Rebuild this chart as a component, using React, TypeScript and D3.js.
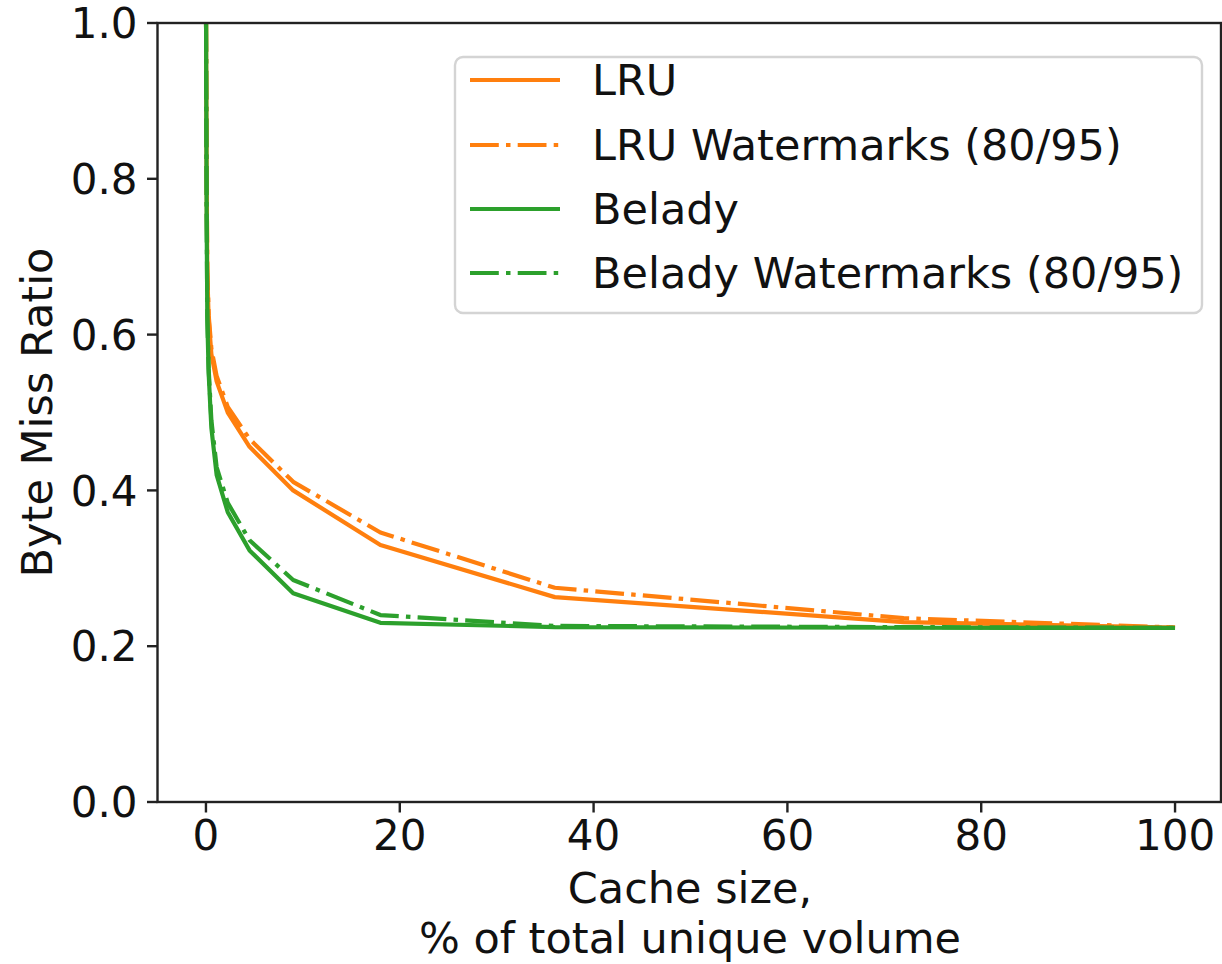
import React, { useEffect } from "react";
import * as d3 from "d3";

// Cache sizes (% of total unique volume) at which miss ratios were measured
const cacheSizes = [0.01, 0.07, 0.14, 0.28, 0.56, 1.1, 2.25, 4.5, 9, 18, 36, 72, 100];

const lruMiss = [1.0, 0.8, 0.68, 0.62, 0.575, 0.54, 0.5, 0.456, 0.4, 0.33, 0.263, 0.231, 0.224];
const lruWatermarkMiss = [1.0, 0.8, 0.685, 0.625, 0.582, 0.547, 0.507, 0.466, 0.411, 0.346, 0.275, 0.236, 0.224];
const beladyMiss = [1.0, 0.75, 0.62, 0.55, 0.48, 0.42, 0.372, 0.323, 0.268, 0.23, 0.2245, 0.2237, 0.2235];
const beladyWatermarkMiss = [1.0, 0.755, 0.625, 0.556, 0.49, 0.43, 0.384, 0.336, 0.285, 0.24, 0.226, 0.2245, 0.2235];

const xTicks = [0, 20, 40, 60, 80, 100];
const yTicks = [0.0, 0.2, 0.4, 0.6, 0.8, 1.0];

const ORANGE = "#ff7f0e";
const GREEN = "#2ca02c";
const DASHDOT = "28.8,7.2,4.5,7.2";

const seriesList = [
  { name: "LRU", values: lruMiss, color: ORANGE, dash: null as string | null },
  { name: "LRU Watermarks (80/95)", values: lruWatermarkMiss, color: ORANGE, dash: DASHDOT },
  { name: "Belady", values: beladyMiss, color: GREEN, dash: null as string | null },
  { name: "Belady Watermarks (80/95)", values: beladyWatermarkMiss, color: GREEN, dash: DASHDOT },
];

const W = 1222;
const H = 964;
const FONT = "'DejaVu Sans', sans-serif";
const TICK_FS = 42;
const LABEL_FS = 43;

export default function App() {
  useEffect(() => {
    document.body.style.margin = "0";
  }, []);

  const x = d3.scaleLinear().domain([-5, 105]).range([157.5, 1223.5]);
  const y = d3.scaleLinear().domain([0, 1]).range([802, 23]);
  const left = 157.5;
  const right = 1221;
  const top = y(1);
  const bottom = y(0);

  const line = d3
    .line<[number, number]>()
    .x((d) => x(d[0]))
    .y((d) => y(d[1]));

  const legendRowY = [80, 145, 209, 273];

  return (
    <svg width={W} height={H} style={{ display: "block", background: "#fff" }} fontFamily={FONT}>
      <defs>
        <clipPath id="plot-area">
          <rect x={left} y={top} width={right - left} height={bottom - top} />
        </clipPath>
      </defs>

      {/* series lines */}
      <g clipPath="url(#plot-area)">
        {seriesList.map((s) => (
          <path
            key={s.name}
            d={line(cacheSizes.map((c, i) => [c, s.values[i]] as [number, number])) || ""}
            fill="none"
            stroke={s.color}
            strokeWidth={4.2}
            strokeDasharray={s.dash || undefined}
            strokeLinejoin="round"
          />
        ))}
      </g>

      {/* frame */}
      <rect x={left} y={top} width={right - left} height={bottom - top} fill="none" stroke="#222" strokeWidth={2.4} />

      {/* x ticks */}
      {xTicks.map((t) => (
        <g key={`x${t}`}>
          <line x1={x(t)} x2={x(t)} y1={bottom} y2={bottom + 10.5} stroke="#222" strokeWidth={2.4} />
          <text x={x(t)} y={bottom + 48} textAnchor="middle" fontSize={TICK_FS} fill="#111">
            {d3.format("d")(t)}
          </text>
        </g>
      ))}

      {/* y ticks */}
      {yTicks.map((t) => (
        <g key={`y${t}`}>
          <line x1={left - 10.5} x2={left} y1={y(t)} y2={y(t)} stroke="#222" strokeWidth={2.4} />
          <text x={left - 20} y={y(t)} dy="0.36em" textAnchor="end" fontSize={TICK_FS} fill="#111">
            {d3.format(".1f")(t)}
          </text>
        </g>
      ))}

      {/* axis labels */}
      <text x={690} y={903} textAnchor="middle" fontSize={LABEL_FS} fill="#111">
        Cache size,
      </text>
      <text x={690} y={953} textAnchor="middle" fontSize={LABEL_FS} fill="#111">
        % of total unique volume
      </text>
      <text
        transform={`translate(52,${(top + bottom) / 2}) rotate(-90)`}
        textAnchor="middle"
        fontSize={LABEL_FS}
        fill="#111"
      >
        Byte Miss Ratio
      </text>

      {/* legend */}
      <g>
        <rect x={455} y={57} width={747} height={256} rx={8} ry={8} fill="#fff" fillOpacity={0.8} stroke="#d4d4d4" strokeWidth={2.4} />
        {seriesList.map((s, i) => (
          <g key={`leg${s.name}`}>
            <line
              x1={470}
              x2={560}
              y1={legendRowY[i]}
              y2={legendRowY[i]}
              stroke={s.color}
              strokeWidth={4.2}
              strokeDasharray={s.dash || undefined}
            />
            <text x={592} y={legendRowY[i]} dy="0.36em" fontSize={LABEL_FS} fill="#111">
              {s.name}
            </text>
          </g>
        ))}
      </g>
    </svg>
  );
}
